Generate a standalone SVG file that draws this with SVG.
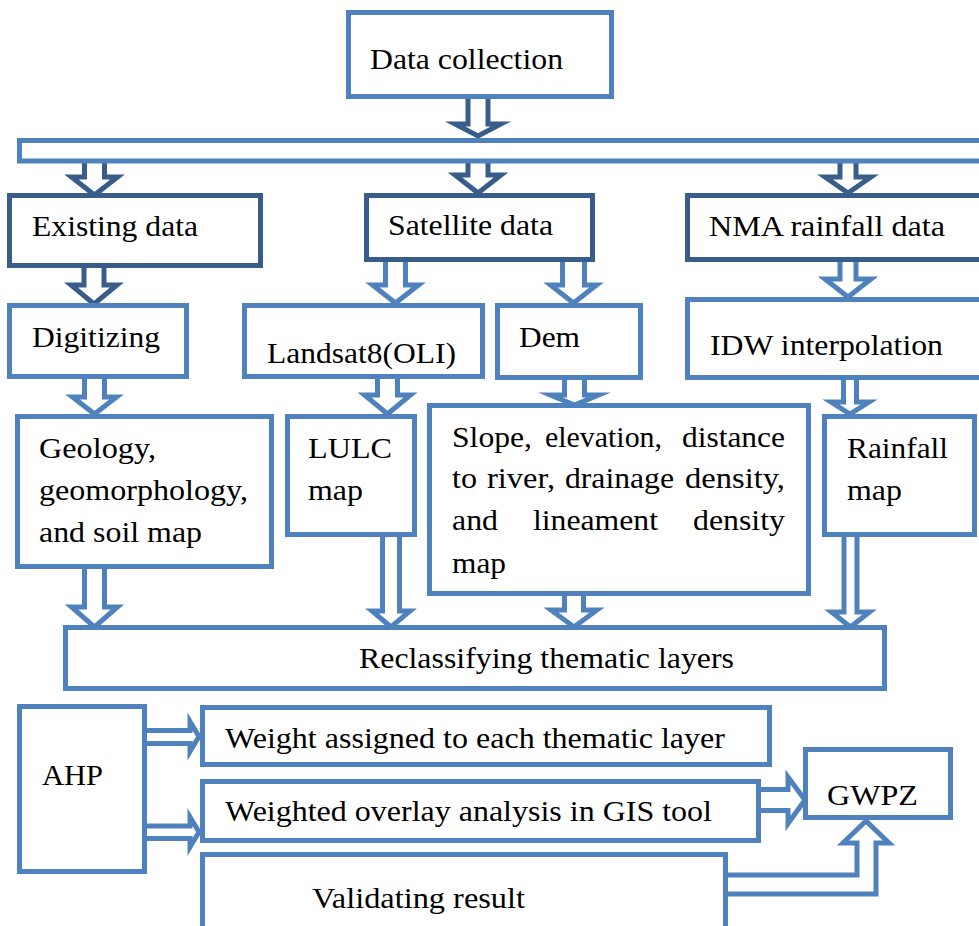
<svg xmlns="http://www.w3.org/2000/svg" width="979" height="926" viewBox="0 0 979 926" font-family="'Liberation Serif', 'Times New Roman', Times, serif" font-size="30">
<style>
.bx{fill:#fff;stroke:#4F81BD;stroke-width:5}
.bd{fill:#fff;stroke:#385D8A;stroke-width:5}
.al{fill:#fff;stroke:#4F81BD;stroke-width:5;stroke-linejoin:miter;stroke-miterlimit:10}
.ad{fill:#fff;stroke:#385D8A;stroke-width:5;stroke-linejoin:miter;stroke-miterlimit:10}
text{fill:#000}
</style>
<rect width="979" height="926" fill="#fff"/>
<g id="connectors">
<polygon class="ad" points="468,95 468,124 455,124 478,136 501,124 488,124 488,95"/>
<polygon class="ad" points="84.5,158 84.5,177 71.5,177 94.5,195 117.5,177 104.5,177 104.5,158"/>
<polygon class="ad" points="468,158 468,175 455,175 478,193 501,175 488,175 488,158"/>
<polygon class="ad" points="840,158 840,177 825,177 848,193 871,177 856,177 856,158"/>
<polygon class="ad" points="84,263 84,285 71,285 94,304 117,285 104,285 104,263"/>
<polygon class="al" points="385.5,257 385.5,285 372.5,285 395.5,303 418.5,285 405.5,285 405.5,257"/>
<polygon class="al" points="562.5,257 562.5,285 550.5,285 573.5,303 596.5,285 584.5,285 584.5,257"/>
<polygon class="al" points="840,257 840,279 825,279 848,297 871,279 856,279 856,257"/>
<polygon class="al" points="84.5,374 84.5,397 72.5,397 94.5,414 116.5,397 104.5,397 104.5,374"/>
<polygon class="al" points="377.5,374 377.5,395 364.5,395 387.5,414 410.5,395 397.5,395 397.5,374"/>
<polygon class="al" points="564.5,375 564.5,395 550.5,395 574.5,405 598.5,395 584.5,395 584.5,375"/>
<polygon class="al" points="843.5,375 843.5,402 831,402 850,414 869,402 856.5,402 856.5,375"/>
<polygon class="al" points="84.5,564 84.5,607 71.5,607 94.5,627 117.5,607 104.5,607 104.5,564"/>
<polygon class="al" points="382.5,532 382.5,611 372,611 391,627 410,611 399.5,611 399.5,532"/>
<polygon class="al" points="564.5,591 564.5,610 551,610 574,627 597,610 583.5,610 583.5,591"/>
<polygon class="al" points="844,532 844,612 831.5,612 850.5,627 869.5,612 857,612 857,532"/>
<polygon class="al" points="140,730.5 190,730.5 190,721.5 199,736.5 190,751.5 190,743.5 140,743.5"/>
<polygon class="al" points="140,826 190,826 190,817 199,832 190,847 190,838.5 140,838.5"/>
<polygon class="al" points="755,789.5 788,789.5 788,777 805,800 788,823.5 788,810.5 755,810.5"/>
<polygon class="al" points="720,875 857,875 857,843 843,843 866,821 889,843 876,843 876,894 720,894"/>
</g>
<g id="data-collection"><rect class="bx" x="348.5" y="12.5" width="263" height="84"/><text x="370" y="69" textLength="193" lengthAdjust="spacingAndGlyphs">Data collection</text></g>
<g id="bar"><rect class="bx" x="19.5" y="140.5" width="1000" height="20.5"/></g>
<g id="existing-data"><rect class="bd" x="9.5" y="195.5" width="251" height="70"/><text x="32" y="236" textLength="166" lengthAdjust="spacingAndGlyphs">Existing data</text></g>
<g id="satellite-data"><rect class="bd" x="366.5" y="195.5" width="226" height="64"/><text x="388" y="235" textLength="165" lengthAdjust="spacingAndGlyphs">Satellite data</text></g>
<g id="nma-rainfall"><rect class="bd" x="687.5" y="195.5" width="400" height="64"/><text x="709" y="236" textLength="236" lengthAdjust="spacingAndGlyphs">NMA rainfall data</text></g>
<g id="digitizing"><rect class="bx" x="9.5" y="305.5" width="177" height="71"/><text x="32" y="347" textLength="128" lengthAdjust="spacingAndGlyphs">Digitizing</text></g>
<g id="landsat"><rect class="bx" x="244.5" y="305.5" width="238" height="71"/><text x="267" y="363" textLength="189" lengthAdjust="spacingAndGlyphs">Landsat8(OLI)</text></g>
<g id="dem"><rect class="bx" x="497.5" y="305.5" width="143" height="72"/><text x="519" y="347" textLength="61" lengthAdjust="spacingAndGlyphs">Dem</text></g>
<g id="idw"><rect class="bx" x="687.5" y="299.5" width="400" height="78"/><text x="710" y="355" textLength="233" lengthAdjust="spacingAndGlyphs">IDW interpolation</text></g>
<g id="geology"><rect class="bx" x="17.5" y="416.5" width="254" height="150"/>
<text x="39" y="458" textLength="117" lengthAdjust="spacingAndGlyphs">Geology,</text>
<text x="39" y="500" textLength="209" lengthAdjust="spacingAndGlyphs">geomorphology,</text>
<text x="39" y="542" textLength="163" lengthAdjust="spacingAndGlyphs">and soil map</text></g>
<g id="lulc"><rect class="bx" x="287.5" y="416.5" width="127" height="118"/>
<text x="308" y="458" textLength="84" lengthAdjust="spacingAndGlyphs">LULC</text>
<text x="308" y="500" textLength="55" lengthAdjust="spacingAndGlyphs">map</text></g>
<g id="slope"><rect class="bx" x="429.5" y="405.5" width="379" height="188"/>
<text x="452" y="447" textLength="80" lengthAdjust="spacingAndGlyphs">Slope,</text><text x="545" y="447" textLength="117" lengthAdjust="spacingAndGlyphs">elevation,</text><text x="682" y="447" textLength="103" lengthAdjust="spacingAndGlyphs">distance</text>
<text x="452" y="488" textLength="25" lengthAdjust="spacingAndGlyphs">to</text><text x="487" y="488" textLength="68" lengthAdjust="spacingAndGlyphs">river,</text><text x="565" y="488" textLength="109" lengthAdjust="spacingAndGlyphs">drainage</text><text x="685" y="488" textLength="100" lengthAdjust="spacingAndGlyphs">density,</text>
<text x="452" y="530" textLength="46" lengthAdjust="spacingAndGlyphs">and</text><text x="533" y="530" textLength="125" lengthAdjust="spacingAndGlyphs">lineament</text><text x="693" y="530" textLength="92" lengthAdjust="spacingAndGlyphs">density</text>
<text x="452" y="573" textLength="54" lengthAdjust="spacingAndGlyphs">map</text></g>
<g id="rainfall-map"><rect class="bx" x="824.5" y="416.5" width="150" height="118"/>
<text x="847" y="458" textLength="101" lengthAdjust="spacingAndGlyphs">Rainfall</text>
<text x="847" y="500" textLength="55" lengthAdjust="spacingAndGlyphs">map</text></g>
<g id="reclassifying"><rect class="bx" x="65.5" y="627.5" width="819" height="61"/><text x="359" y="668" textLength="375" lengthAdjust="spacingAndGlyphs">Reclassifying thematic layers</text></g>
<g id="ahp"><rect class="bx" x="19.5" y="706.5" width="125" height="165"/><text x="42" y="785" textLength="61" lengthAdjust="spacingAndGlyphs">AHP</text></g>
<g id="weight"><rect class="bx" x="202.5" y="707.5" width="567" height="57"/><text x="225" y="748" textLength="500" lengthAdjust="spacingAndGlyphs">Weight assigned to each thematic layer</text></g>
<g id="overlay"><rect class="bx" x="202.5" y="781.5" width="556" height="59"/><text x="225" y="821" textLength="487" lengthAdjust="spacingAndGlyphs">Weighted overlay analysis in GIS tool</text></g>
<g id="validating"><rect class="bx" x="202.5" y="854.5" width="523" height="100"/><text x="312" y="908" textLength="213" lengthAdjust="spacingAndGlyphs">Validating result</text></g>
<g id="gwpz"><rect class="bx" x="805.5" y="749.5" width="145" height="68"/><text x="827" y="805" textLength="91" lengthAdjust="spacingAndGlyphs">GWPZ</text></g>
</svg>
